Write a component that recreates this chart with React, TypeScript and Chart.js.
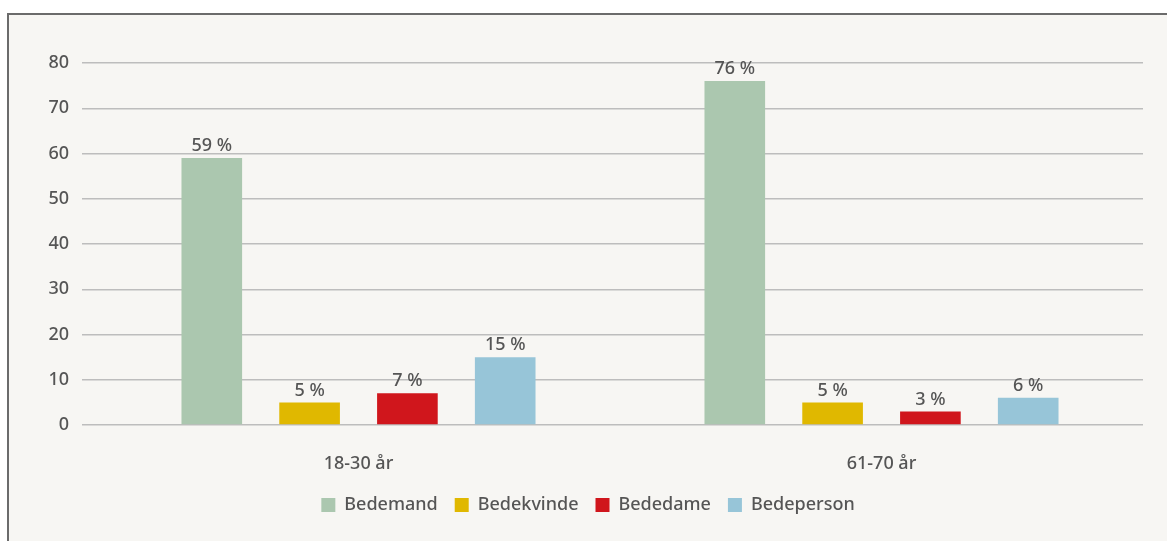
import React, { useEffect, useRef } from "react";
import { Chart, registerables } from "chart.js";

Chart.register(...registerables);

const categories = ["18-30 år", "61-70 år"];
const seriesNames = ["Bedemand", "Bedekvinde", "Bededame", "Bedeperson"];
const bedemand = [59, 76];
const bedekvinde = [5, 5];
const bededame = [7, 3];
const bedeperson = [15, 6];
const seriesColors = ["#abc7af", "#e0b800", "#d0161c", "#97c5d8"];
const yTicks = [0, 10, 20, 30, 40, 50, 60, 70, 80];

const FONT = "'Noto Sans', sans-serif";
const TEXT = "#555555";
const FSIZE = 18;
const FWEIGHT = "500";

const valueLabels = {
  id: "valueLabels",
  afterDatasetsDraw(chart: any) {
    const ctx = chart.ctx;
    ctx.save();
    ctx.font = `${FWEIGHT} ${FSIZE}px ${FONT}`;
    ctx.fillStyle = TEXT;
    ctx.textAlign = "center";
    ctx.textBaseline = "bottom";
    chart.data.datasets.forEach((ds: any, i: number) => {
      const meta = chart.getDatasetMeta(i);
      meta.data.forEach((el: any, j: number) => {
        ctx.fillText(`${ds.data[j]} %`, el.x, el.y - 3);
      });
    });
    ctx.restore();
  },
};

export default function App() {
  const ref = useRef<HTMLCanvasElement>(null);
  useEffect(() => {
    if (!ref.current) return;
    const seriesData = [bedemand, bedekvinde, bededame, bedeperson];
    const font = { family: FONT, size: FSIZE, weight: FWEIGHT as any };
    const chart = new Chart(ref.current, {
      type: "bar",
      data: {
        labels: categories,
        datasets: seriesNames.map((name, i) => ({
          label: name,
          data: seriesData[i],
          backgroundColor: seriesColors[i],
          borderWidth: 0,
          categoryPercentage: 0.748,
          barPercentage: 0.62,
        })),
      },
      options: {
        animation: false,
        responsive: false,
        layout: { padding: { top: 48, right: 24, bottom: 17, left: 24 } },
        scales: {
          x: {
            grid: { display: false },
            border: { display: false },
            ticks: { color: TEXT, font, padding: 20 },
            afterFit: (s: any) => {
              s.height = 54;
            },
          },
          y: {
            min: 0,
            max: 80,
            afterBuildTicks: (s: any) => {
              s.ticks = yTicks.map((v) => ({ value: v }));
            },
            grid: { color: "#bdbdbd", lineWidth: 1.5, tickLength: 15 },
            border: { display: false },
            ticks: { color: TEXT, font, padding: 13 },
            afterFit: (s: any) => {
              s.width = 64;
            },
          },
        },
        plugins: {
          legend: {
            position: "bottom",
            labels: {
              color: TEXT,
              font,
              boxWidth: 14,
              boxHeight: 14,
              padding: 17,
            },
          },
          tooltip: { enabled: false },
        },
      },
      plugins: [valueLabels],
    });
    return () => chart.destroy();
  }, []);

  return (
    <div
      style={{
        position: "absolute",
        left: 7,
        top: 13,
        width: 1160,
        height: 528,
        boxSizing: "border-box",
        borderTop: "2px solid #6b6b6b",
        borderLeft: "2px solid #6b6b6b",
        background: "#f7f6f3",
      }}
    >
      <canvas ref={ref} width={1158} height={526} style={{ display: "block" }} />
    </div>
  );
}
